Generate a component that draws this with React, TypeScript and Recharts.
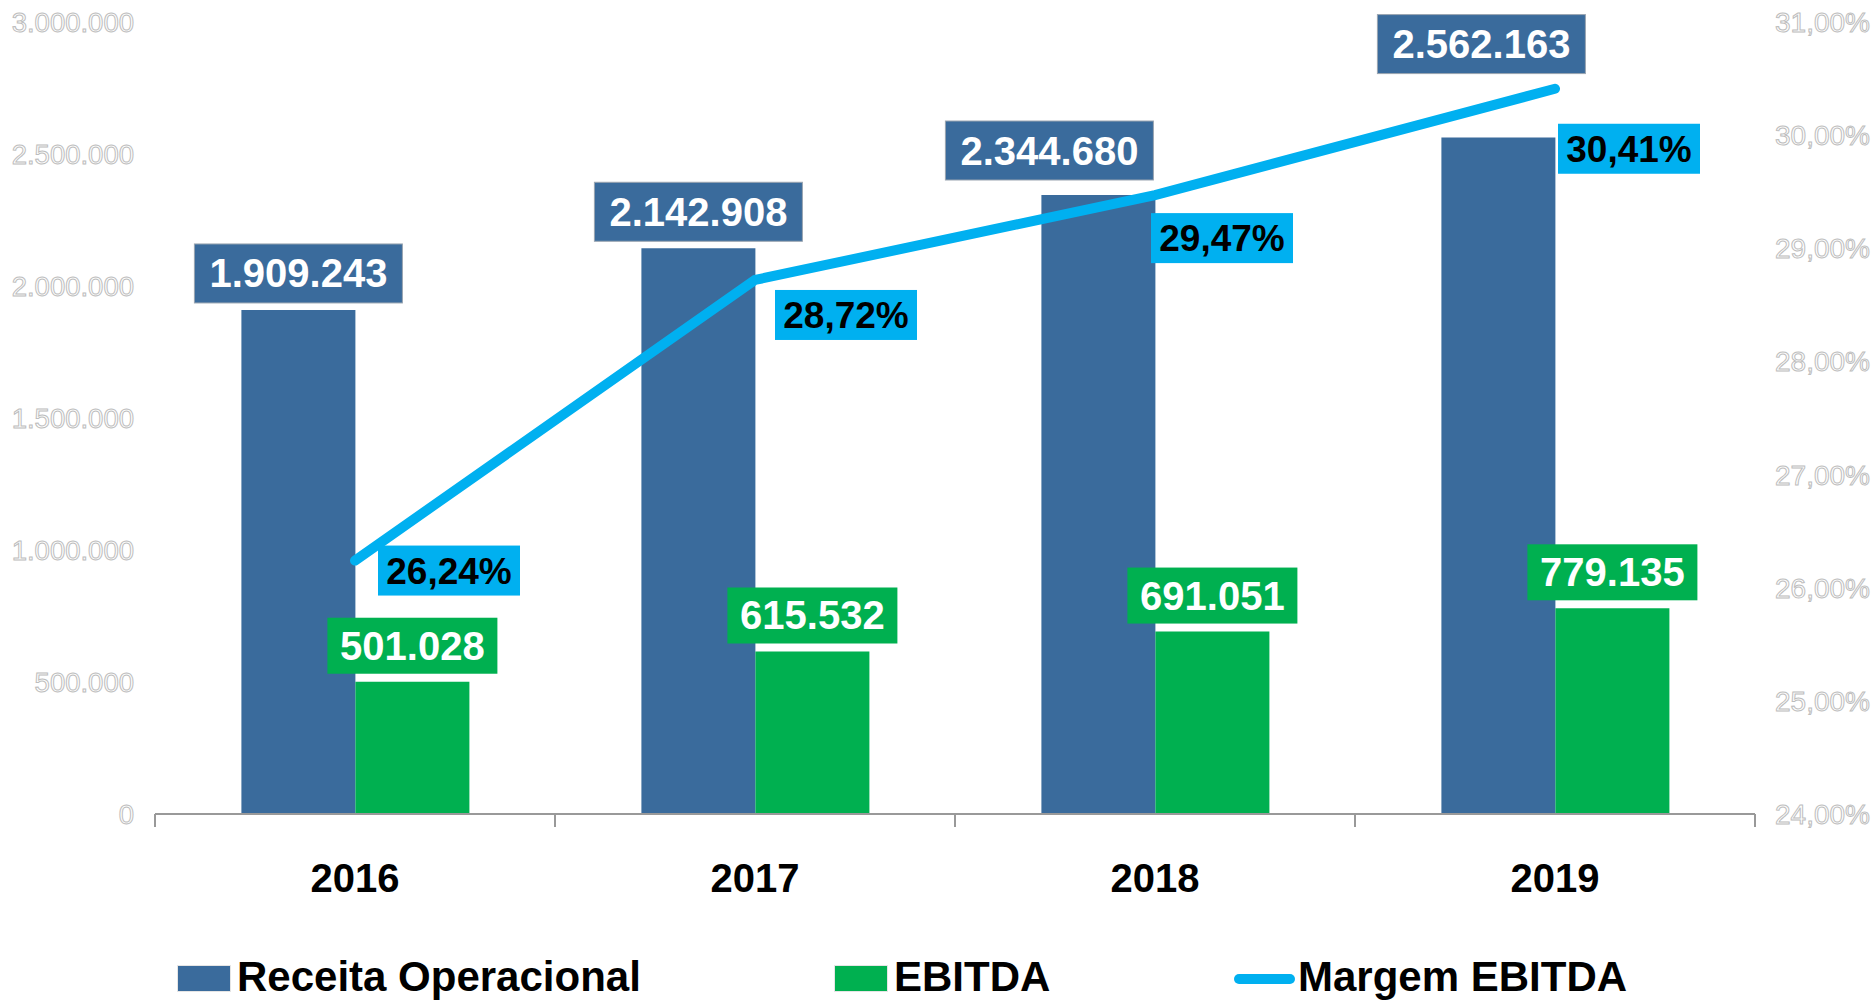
import { ComposedChart, Bar, Line, XAxis, YAxis, Legend, LabelList } from "recharts";

const anos = ["2016", "2017", "2018", "2019"];
const receita = [1909243, 2142908, 2344680, 2562163];
const ebitda = [501028, 615532, 691051, 779135];
const margem = [26.24, 28.72, 29.47, 30.41];
const ticksValor = [0, 500000, 1000000, 1500000, 2000000, 2500000, 3000000];
const ticksMargem = [24, 25, 26, 27, 28, 29, 30, 31];
const nomes = ["Receita Operacional", "EBITDA", "Margem EBITDA"];

const data = anos.map((ano, i) => ({ ano, receita: receita[i], ebitda: ebitda[i], margem: margem[i] }));

const AZUL = "#3A6B9C";
const VERDE = "#00B050";
const CIANO = "#00B0F0";
const FONT = '"Liberation Sans", Arial, sans-serif';

const W = 1872;
const H = 1000;
const PLOT_LEFT = 155;
const PLOT_RIGHT = 117;
const BAND = (W - PLOT_LEFT - PLOT_RIGHT) / anos.length;

// ajustes manuais dos rótulos (como no Excel original)
const deslocReceita = [[0, 0], [0, 0], [-49, -8], [-17, -57]];
const deslocMargem = [[23, -15], [20, 10], [-4, 18], [3, 35]];
const legendaX = [178, 835, 1234];

const fmtValor = (v: number) => String(v).replace(/\B(?=(\d{3})+(?!\d))/g, ".");
const fmtPct = (v: number) => v.toFixed(2).replace(".", ",") + "%";

function geom(p: any) {
  const vb = p.viewBox || {};
  return {
    x: p.x ?? vb.x,
    y: p.y ?? vb.y,
    width: p.width ?? vb.width ?? 0,
  };
}

function idx(p: any, arr: number[]) {
  return typeof p.index === "number" ? p.index : arr.indexOf(Number(p.value));
}

function ReceitaLabel(p: any) {
  const { x, y, width } = geom(p);
  const i = idx(p, receita);
  const [dx, dy] = deslocReceita[i] || [0, 0];
  const w = 208, h = 59;
  const cx = x + width / 2 + dx;
  const bottom = y - 7 + dy;
  return (
    <g>
      <rect x={cx - w / 2} y={bottom - h} width={w} height={h} fill={AZUL} stroke="#9aa5b1" strokeWidth={1} />
      <text x={cx} y={bottom - h / 2 + 14} textAnchor="middle" fill="#fff" fontSize={40} fontWeight="bold" fontFamily={FONT}>
        {fmtValor(receita[i])}
      </text>
    </g>
  );
}

function EbitdaLabel(p: any) {
  const { x, y, width } = geom(p);
  const i = idx(p, ebitda);
  const w = 170, h = 56;
  const cx = x + width / 2;
  const bottom = y - 8;
  return (
    <g>
      <rect x={cx - w / 2} y={bottom - h} width={w} height={h} fill={VERDE} />
      <text x={cx} y={bottom - h / 2 + 14} textAnchor="middle" fill="#fff" fontSize={40} fontWeight="bold" fontFamily={FONT}>
        {fmtValor(ebitda[i])}
      </text>
    </g>
  );
}

function MargemLabel(p: any) {
  const { x, y } = geom(p);
  const i = idx(p, margem);
  const [dx, dy] = deslocMargem[i] || [0, 0];
  const w = 142, h = 50;
  const left = x + dx;
  const top = y + dy;
  return (
    <g>
      <rect x={left} y={top} width={w} height={h} fill={CIANO} />
      <text x={left + w / 2} y={top + h / 2 + 13} textAnchor="middle" fill="#000" fontSize={37} fontWeight="bold" fontFamily={FONT}>
        {fmtPct(margem[i])}
      </text>
    </g>
  );
}

function AnoTick(p: any) {
  const { x, y, payload, index } = p;
  const half = BAND / 2;
  return (
    <g>
      <line x1={x - half} x2={x - half} y1={y} y2={y + 13} stroke="#999" strokeWidth={2} />
      {index === anos.length - 1 && <line x1={x + half} x2={x + half} y1={y} y2={y + 13} stroke="#999" strokeWidth={2} />}
      <text x={x} y={y + 78} textAnchor="middle" fill="#000" fontSize={40} fontWeight="bold" fontFamily={FONT}>
        {payload.value}
      </text>
    </g>
  );
}

function Legenda() {
  const cores = [AZUL, VERDE, CIANO];
  return (
    <div style={{ position: "relative", height: 46, width: W, fontFamily: FONT, fontWeight: "bold", fontSize: 42, lineHeight: "46px", color: "#000", whiteSpace: "nowrap" }}>
      {nomes.map((nome, i) => (
        <div key={nome} style={{ position: "absolute", left: legendaX[i], top: 0, display: "flex", alignItems: "flex-start" }}>
          {i < 2 ? (
            <span style={{ display: "inline-block", width: 52, height: 25, marginTop: 12, marginRight: 7, background: cores[i], outline: "1px solid rgba(0,0,0,0.1)" }} />
          ) : (
            <span style={{ display: "inline-block", width: 61, height: 10, marginTop: 20, marginRight: 3, borderRadius: 5, background: cores[i] }} />
          )}
          <span>{nome}</span>
        </div>
      ))}
    </div>
  );
}

export default function App() {
  return (
    <div style={{ position: "absolute", left: 0, top: 0, width: W, height: H, background: "#fff", fontFamily: FONT }}>
      <ComposedChart width={W} height={H} data={data} margin={{ top: 22, right: 0, bottom: 0, left: 0 }} barCategoryGap="21.6%" barGap={0}>
        <XAxis
          dataKey="ano"
          height={140}
          axisLine={{ stroke: "#999", strokeWidth: 2 }}
          tickLine={false}
          tickSize={0}
          tickMargin={0}
          tick={<AnoTick />}
          interval={0}
        />
        <YAxis
          yAxisId="valor"
          width={PLOT_LEFT}
          domain={[0, 3000000]}
          ticks={ticksValor}
          tickFormatter={fmtValor}
          axisLine={false}
          tickLine={false}
          tickSize={0}
          tickMargin={21}
          tick={{ fill: "#fff", stroke: "#bdbdbd", strokeWidth: 1, fontSize: 27.5, fontFamily: FONT }}
        />
        <YAxis
          yAxisId="pct"
          orientation="right"
          width={PLOT_RIGHT}
          domain={[24, 31]}
          ticks={ticksMargem}
          tickFormatter={fmtPct}
          axisLine={false}
          tickLine={false}
          tickSize={0}
          tickMargin={20}
          tick={{ fill: "#fff", stroke: "#bdbdbd", strokeWidth: 1, fontSize: 28, fontFamily: FONT, textAnchor: "start" }}
        />
        <Legend verticalAlign="bottom" height={46} wrapperStyle={{ left: 0, bottom: 0, width: W }} content={<Legenda />} />
        <Bar yAxisId="valor" dataKey="receita" name={nomes[0]} fill={AZUL} isAnimationActive={false}>
          <LabelList dataKey="receita" content={<ReceitaLabel />} />
        </Bar>
        <Bar yAxisId="valor" dataKey="ebitda" name={nomes[1]} fill={VERDE} isAnimationActive={false}>
          <LabelList dataKey="ebitda" content={<EbitdaLabel />} />
        </Bar>
        <Line
          yAxisId="pct"
          type="linear"
          dataKey="margem"
          name={nomes[2]}
          stroke={CIANO}
          strokeWidth={10}
          strokeLinecap="round"
          dot={false}
          isAnimationActive={false}
        >
          <LabelList dataKey="margem" content={<MargemLabel />} />
        </Line>
      </ComposedChart>
    </div>
  );
}
